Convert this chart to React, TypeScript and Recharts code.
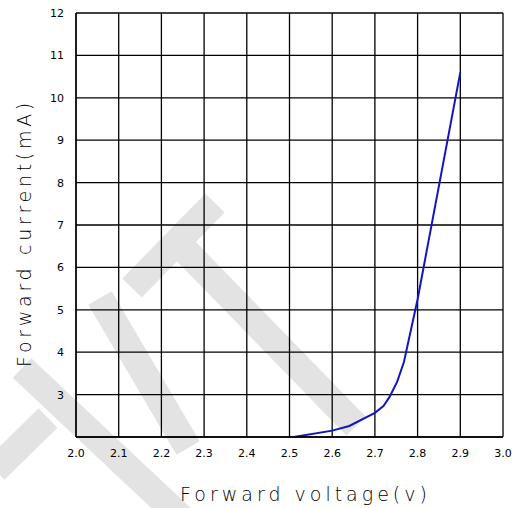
import { CartesianGrid, Line, LineChart, XAxis, YAxis } from 'recharts';

const voltage = [2.51, 2.6, 2.64, 2.7, 2.72, 2.734, 2.752, 2.768, 2.8, 2.9];
const current = [2.0, 2.15, 2.26, 2.57, 2.73, 2.94, 3.3, 3.77, 5.25, 10.6];

const xTicks = [2.0, 2.1, 2.2, 2.3, 2.4, 2.5, 2.6, 2.7, 2.8, 2.9, 3.0];
const yTicks = [2, 3, 4, 5, 6, 7, 8, 9, 10, 11, 12];

const data = voltage.map((v, i) => ({ v, i: current[i] }));

const font = '"DejaVu Sans", sans-serif';

// faint diagonal watermark behind the plot
const bands: [number, number, number, number][] = [
  [215, 203, 132, 288],
  [178, 243, 356, 426],
  [100, 298, 188, 448],
  [22, 368, 205, 540],
  [48, 418, -5, 470],
];

function bandPoints([x1, y1, x2, y2]: [number, number, number, number], w = 27) {
  const dx = x2 - x1;
  const dy = y2 - y1;
  const len = Math.hypot(dx, dy);
  const nx = (-dy / len) * (w / 2);
  const ny = (dx / len) * (w / 2);
  return [
    [x1 + nx, y1 + ny],
    [x2 + nx, y2 + ny],
    [x2 - nx, y2 - ny],
    [x1 - nx, y1 - ny],
  ]
    .map((p) => p.join(','))
    .join(' ');
}

export default function App() {
  return (
    <div style={{ position: 'absolute', left: 0, top: 0, width: 519, height: 508, background: '#fff' }}>
      <svg width={519} height={508} style={{ position: 'absolute', left: 0, top: 0 }}>
        {bands.map((b, k) => (
          <polygon key={k} points={bandPoints(b)} fill="#e3e3e3" />
        ))}
      </svg>
      <div style={{ position: 'absolute', left: 0, top: 0 }}>
        <LineChart
          width={519}
          height={508}
          data={data}
          margin={{ top: 13, right: 16, left: 16, bottom: 0 }}
        >
          <CartesianGrid stroke="#000" strokeWidth={1.3} />
          <XAxis
            dataKey="v"
            type="number"
            domain={[2, 3]}
            ticks={xTicks}
            tickFormatter={(t: number) => t.toFixed(1)}
            height={71}
            axisLine={{ stroke: '#000', strokeWidth: 1.3 }}
            tickLine={false}
            tickMargin={6}
            tick={{ fill: '#000', fontSize: 11, fontFamily: font }}
            label={{
              value: 'Forward voltage(v)',
              position: 'insideBottom',
              offset: 7,
              dx: 16,
              fill: '#000',
              fontSize: 19,
              fontFamily: font,
              letterSpacing: 4,
              fontWeight: 300,
            }}
          />
          <YAxis
            type="number"
            domain={[2, 12]}
            ticks={yTicks}
            tickFormatter={(t: number) => (t === 2 ? '' : String(t))}
            width={60}
            axisLine={{ stroke: '#000', strokeWidth: 1.3 }}
            tickLine={false}
            tickMargin={6}
            tick={{ fill: '#000', fontSize: 11, fontFamily: font }}
            label={{
              value: 'Forward current(mA)',
              angle: -90,
              position: 'insideLeft',
              offset: 0,
              dx: 8,
              dy: 8,
              fill: '#000',
              fontSize: 19,
              fontFamily: font,
              letterSpacing: 3.7,
              fontWeight: 300,
              textAnchor: 'middle',
            }}
          />
          <Line
            type="linear"
            dataKey="i"
            stroke="#1515c0"
            strokeWidth={2}
            dot={false}
            isAnimationActive={false}
          />
        </LineChart>
      </div>
    </div>
  );
}
